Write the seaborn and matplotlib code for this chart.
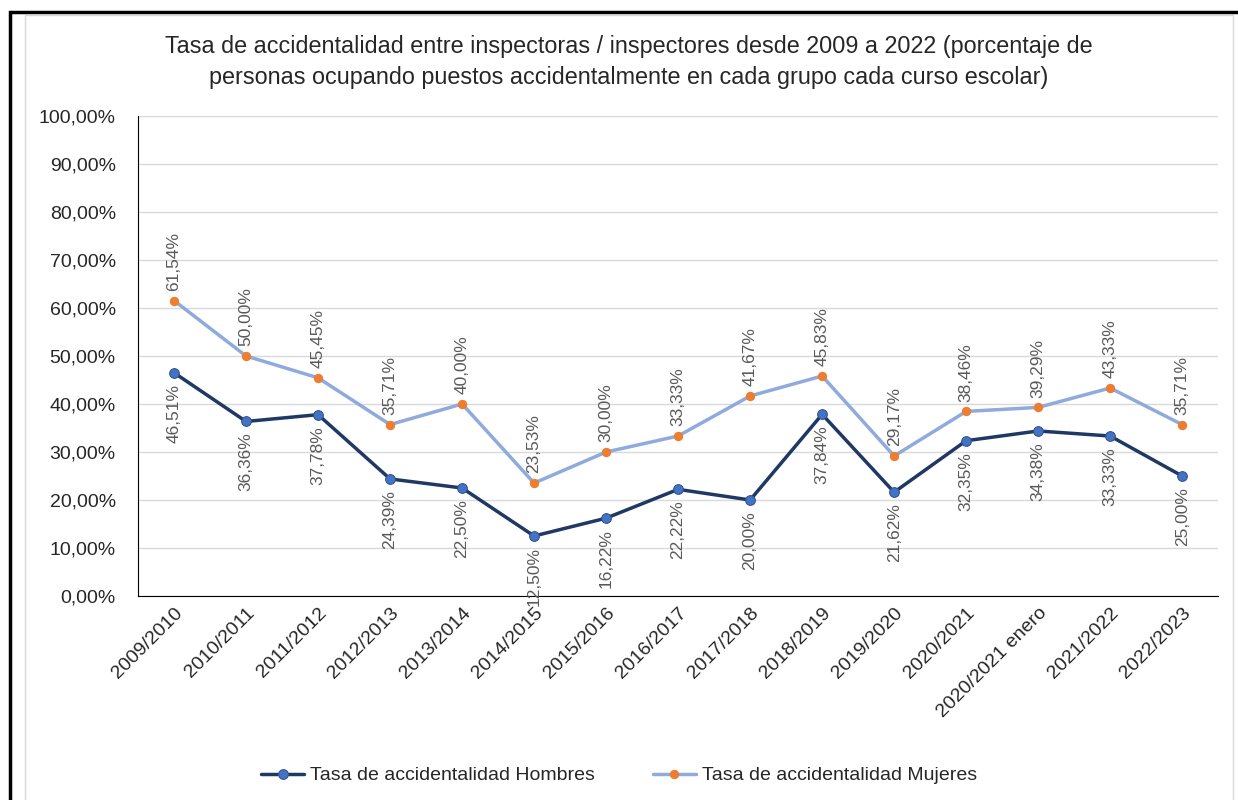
import pandas as pd
import numpy as np
import matplotlib.pyplot as plt
import matplotlib.ticker as mticker
import seaborn as sns

cursos = ['2009/2010', '2010/2011', '2011/2012', '2012/2013', '2013/2014', '2014/2015',
          '2015/2016', '2016/2017', '2017/2018', '2018/2019', '2019/2020', '2020/2021',
          '2020/2021 enero', '2021/2022', '2022/2023']
hombres = [46.51, 36.36, 37.78, 24.39, 22.50, 12.50, 16.22, 22.22, 20.00, 37.84,
           21.62, 32.35, 34.38, 33.33, 25.00]
mujeres = [61.54, 50.00, 45.45, 35.71, 40.00, 23.53, 30.00, 33.33, 41.67, 45.83,
           29.17, 38.46, 39.29, 43.33, 35.71]

sns.set_style("white")
plt.rcParams['font.family'] = ['Liberation Sans', 'DejaVu Sans']

df = pd.DataFrame({'curso': list(range(len(cursos))), 'Hombres': hombres, 'Mujeres': mujeres})

fig = plt.figure(figsize=(12.38, 8), dpi=100)
ax = fig.add_axes([0.1115, 0.255, 0.8725, 0.6])

sns.lineplot(data=df, x='curso', y='Hombres', ax=ax, color='#1f3864', linewidth=2.5,
             marker='o', markersize=7, markerfacecolor='#4472c4', markeredgecolor='#2f528f',
             label='Tasa de accidentalidad Hombres')
sns.lineplot(data=df, x='curso', y='Mujeres', ax=ax, color='#8faadc', linewidth=2.5,
             marker='o', markersize=6, markerfacecolor='#ed7d31', markeredgecolor='#ed7d31',
             label='Tasa de accidentalidad Mujeres')

def fmt(v):
    return f"{v:.2f}".replace('.', ',') + '%'

for i in range(len(cursos)):
    ax.annotate(fmt(hombres[i]), (i, hombres[i]), xytext=(0, -8), textcoords='offset points',
                rotation=90, ha='center', va='top', fontsize=12.5, color='#595959')
    ax.annotate(fmt(mujeres[i]), (i, mujeres[i]), xytext=(0, 7), textcoords='offset points',
                rotation=90, ha='center', va='bottom', fontsize=12.5, color='#595959')

ax.set_xlim(-0.5, len(cursos) - 0.5)
ax.set_ylim(0, 100)
ax.set_yticks(np.arange(0, 101, 10))
ax.yaxis.set_major_formatter(mticker.FuncFormatter(lambda v, p: f"{v:.2f}".replace('.', ',') + '%'))
ax.set_xticks(range(len(cursos)))
ax.set_xticklabels(cursos, rotation=45, ha='right', rotation_mode='anchor', fontsize=14)
ax.tick_params(axis='y', labelsize=14, length=0, pad=16)
ax.tick_params(axis='x', length=0, pad=6)
ax.grid(axis='y', color='#d9d9d9', linewidth=1)
ax.set_axisbelow(True)
ax.set_xlabel('')
ax.set_ylabel('')
for s in ['top', 'right']:
    ax.spines[s].set_visible(False)
ax.spines['left'].set_color('black')
ax.spines['left'].set_linewidth(0.8)
ax.spines['bottom'].set_color('black')
ax.spines['bottom'].set_linewidth(0.8)

fig.text(0.508, 0.922, 'Tasa de accidentalidad entre inspectoras / inspectores desde 2009 a 2022 (porcentaje de\n'
         'personas ocupando puestos accidentalmente en cada grupo cada curso escolar)',
         ha='center', va='center', fontsize=16.8, color='#262626', linespacing=1.45)

ax.legend(loc='center', bbox_to_anchor=(0.5, 0.0305), bbox_transform=fig.transFigure,
          ncol=2, frameon=False, fontsize=14, handlelength=2.2, columnspacing=3, handletextpad=0.3)

# marcos
fig.patches.append(plt.Rectangle((10 / 1238, -0.1), 1.2, 1.1 - 12 / 800, transform=fig.transFigure,
                                 fill=False, edgecolor='black', linewidth=2.5))
fig.patches.append(plt.Rectangle((25 / 1238, -0.1), (1233 - 25) / 1238, 1.1 - 15 / 800,
                                 transform=fig.transFigure, fill=False, edgecolor='#d9d9d9', linewidth=1))

fig.savefig('out.png', dpi=100)
